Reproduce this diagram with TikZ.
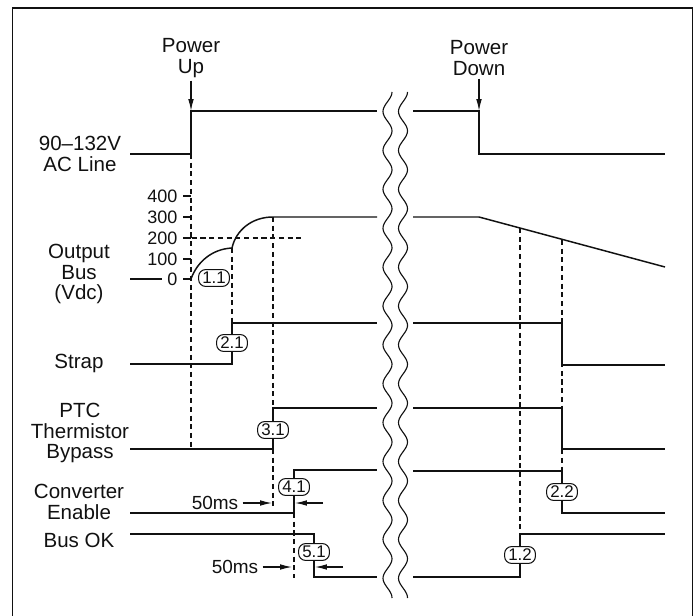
\documentclass[tikz,border=0pt]{standalone}
\usepackage{fontspec}
\setmainfont{Liberation Sans}
\usepackage{xcolor}
\usetikzlibrary{arrows.meta}
\definecolor{inkc}{HTML}{111111}
\tikzset{
  trace/.style={draw=inkc, line width=1.05pt, line join=miter},
  guide/.style={draw=inkc, line width=0.8pt, dash pattern=on 3.6pt off 2.6pt},
  frame/.style={draw=inkc, line width=1.4pt},
  breakline/.style={draw=inkc, line width=0.8pt},
  pointer/.style={draw=inkc, line width=0.8pt, -{Latex[length=8.5pt,width=4pt]}},
  caption/.style={align=center, inner sep=2pt, text=inkc, font=\fontsize{14.6}{14.8}\selectfont},
  axisnum/.style={anchor=east, inner sep=1pt, text=inkc, font=\fontsize{12.8}{14}\selectfont},
  msnote/.style={inner sep=3pt, text=inkc, font=\fontsize{13.5}{14}\selectfont},
  badge/.style={draw=inkc, fill=white, rounded corners=5pt, line width=0.75pt, inner xsep=2.6pt, inner ysep=1pt, minimum height=12pt, text=inkc, font=\fontsize{12}{13}\selectfont},
}

\begin{document}
\begin{tikzpicture}[x=0.025cm, y=-0.025cm]
\useasboundingbox (0,0) rectangle (697,616);
\draw[frame] (12.5,616) -- (12.5,8) -- (692.5,8) -- (692.5,616);

\node[caption] (pwrup) at (191,58) {Power\\Up};
\node[caption] (pwrdn) at (479,58) {Power\\Down};
\coordinate (upedge) at (191,111);
\coordinate (dnedge) at (479,111);
\draw[pointer] (pwrup.south) -- (upedge);
\draw[pointer] (pwrdn.south) -- (dnedge);

\node[caption] (acline) at (80,154) {90–132V\\AC Line};
\node[caption] (outbus) at (79,274) {Output\\Bus\\(Vdc)};
\node[caption] (strap) at (79,363) {Strap};
\node[caption] (ptc) at (80,433) {PTC\\Thermistor\\Bypass};
\node[caption] (conv) at (79,502) {Converter\\Enable};
\node[caption] (busok) at (79,540) {Bus OK};

\foreach \v/\y in {0/279,100/259,200/238,300/217,400/196} {
  \draw[trace] (183,\y) -- (191,\y);
  \node[axisnum] (num\v) at (179,\y) {\v};
}

\draw[guide] (191,154) -- (191,449);
\draw[guide] (232,248) -- (232,323);
\draw[guide] (273,217) -- (273,408);
\draw[guide] (273,449) -- (273,510);
\draw[guide] (294,513) -- (294,578);
\draw[guide] (520,228) -- (520,534);
\draw[guide] (562,240) -- (562,471);
\draw[guide] (183,238) -- (303,238);

\draw[trace] (130,154) -- (191,154) -- (191,111) -- (377,111);
\draw[trace] (413,111) -- (479,111) -- (479,154) -- (665,154);

\draw[trace] (130,279) -- (162,279);
\draw[trace] (191,279) .. controls (197,262) and (212,249) .. (232,248);
\draw[trace] (232,248) .. controls (236,230) and (252,217) .. (273,217) -- (377,217);
\draw[trace] (413,217) -- (479,217) -- (665,267);

\draw[trace] (130,364) -- (232,364) -- (232,323) -- (377,323);
\draw[trace] (413,323) -- (562,323) -- (562,365) -- (665,365);

\draw[trace] (130,449) -- (273,449) -- (273,408) -- (377,408);
\draw[trace] (413,408) -- (562,408) -- (562,449) -- (665,449);

\draw[trace] (130,513) -- (294,513) -- (294,470) -- (377,470);
\draw[trace] (413,471) -- (562,471) -- (562,513) -- (665,513);

\draw[trace] (130,534) -- (314,534) -- (314,577) -- (377,577);
\draw[trace] (413,577) -- (520,577) -- (520,534) -- (665,534);

\draw[breakline] plot[domain=92:598, samples=260, smooth] ({387.5+4.5*cos(9.2545*(\x-92))}, \x);
\draw[breakline] plot[domain=92:598, samples=260, smooth] ({403+4.5*cos(9.2545*(\x-92))}, \x);

\node[badge] (b11) at (214,278) {1.1};
\node[badge] (b21) at (232,343) {2.1};
\node[badge] (b31) at (273,430) {3.1};
\node[badge] (b41) at (294,487) {4.1};
\node[badge] (b51) at (314,552) {5.1};
\node[badge] (b22) at (562,492) {2.2};
\node[badge] (b12) at (520,555) {1.2};

\node[msnote] (msa) at (215,503) {50ms};
\node[msnote] (msb) at (235,567) {50ms};
\coordinate (msatip) at (272,503);
\coordinate (msaend) at (323,503);
\coordinate (msareturn) at (295,503);
\coordinate (msbtip) at (292,567);
\coordinate (msbend) at (343,567);
\coordinate (msbreturn) at (315,567);
\draw[pointer] (msa.east) -- (msatip);
\draw[pointer] (msaend) -- (msareturn);
\draw[pointer] (msb.east) -- (msbtip);
\draw[pointer] (msbend) -- (msbreturn);
\end{tikzpicture}
\end{document}
